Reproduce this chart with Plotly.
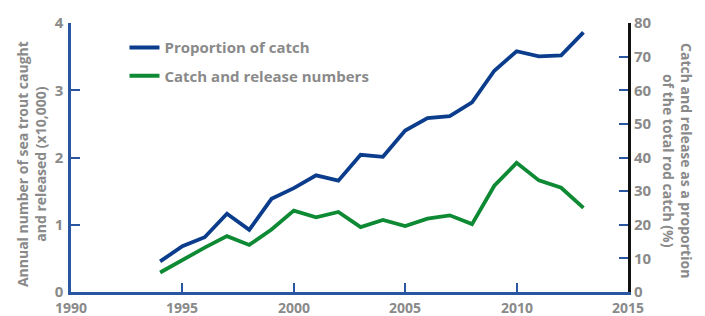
import plotly.graph_objects as go

years = list(range(1994, 2014))
# Proportion of catch (%), right axis
proportion = [9.1, 13.6, 16.3, 23.3, 18.5, 27.7, 30.9, 34.7, 33.1, 40.8,
              40.2, 48.0, 51.7, 52.3, 56.4, 65.8, 71.6, 70.1, 70.4, 77.2]
# Catch and release numbers (x10,000), left axis
numbers = [0.29, 0.48, 0.66, 0.83, 0.70, 0.93, 1.21, 1.11, 1.19, 0.965,
           1.07, 0.98, 1.09, 1.14, 1.01, 1.58, 1.92, 1.66, 1.55, 1.25]

x_ticks = [1990, 1995, 2000, 2005, 2010, 2015]
y_ticks = [0, 1, 2, 3, 4]
y2_ticks = [0, 10, 20, 30, 40, 50, 60, 70, 80]

BLUE = "#0b3d8c"
GREEN = "#0e8a34"
AXBLUE = "#2a55a0"
GRAY = "#8a8a8a"
FONT = "Open Sans"

fig = go.Figure()
fig.add_trace(go.Scatter(x=years, y=proportion, name="Proportion of catch",
                         mode="lines", line=dict(color=BLUE, width=3.8),
                         yaxis="y2", legend="legend", showlegend=True))
fig.add_trace(go.Scatter(x=years, y=numbers, name="Catch and release numbers",
                         mode="lines", line=dict(color=GREEN, width=3.8),
                         yaxis="y", legend="legend2", showlegend=True))

tickfont = dict(family=FONT, size=15, color=GRAY, weight="bold")
xtickfont = dict(family=FONT, size=14, color=GRAY, weight="bold")
legfont = dict(family=FONT, size=15, color=GRAY, weight="bold")

# x tick labels as annotations placed through the x axis scale
xlabels = [dict(text=str(v), x=v, xref="x", yref="paper", y=0, yanchor="top",
                xanchor="center", yshift=-4, showarrow=False, font=xtickfont)
           for v in x_ticks]

fig.update_layout(
    width=705, height=316,
    showlegend=True,
    margin=dict(l=71, r=77, t=23, b=23.5),
    paper_bgcolor="white", plot_bgcolor="white",
    xaxis=dict(range=[1990, 2015], tickvals=x_ticks, showticklabels=False,
               showgrid=False, zeroline=False, showline=True, linecolor=AXBLUE, linewidth=2.5,
               ticks="inside", ticklen=9, tickwidth=2, tickcolor=AXBLUE, automargin=False),
    yaxis=dict(range=[0, 4], tickvals=y_ticks, showgrid=False, zeroline=False,
               showline=True, linecolor=AXBLUE, linewidth=2.5,
               ticks="inside", ticklen=9, tickwidth=2, tickcolor=AXBLUE,
               tickfont=tickfont, ticklabelstandoff=2, automargin=False),
    yaxis2=dict(range=[0, 80], tickvals=y2_ticks, overlaying="y", side="right",
                showgrid=False, zeroline=False, showline=True, linecolor="#111111", linewidth=3,
                ticks="inside", ticklen=9, tickwidth=2, tickcolor=AXBLUE,
                tickfont=tickfont, ticklabelstandoff=0, automargin=False),
    legend=dict(x=0.096, y=0.908, xanchor="left", yanchor="middle", font=legfont,
                bgcolor="rgba(0,0,0,0)", itemwidth=30),
    legend2=dict(x=0.096, y=0.803, xanchor="left", yanchor="middle", font=legfont,
                 bgcolor="rgba(0,0,0,0)", itemwidth=30),
    annotations=xlabels + [
        dict(text="Annual number of sea trout caught<br>and released (x10,000)",
             xref="paper", yref="paper", x=-0.072, y=0.475, xanchor="center", yanchor="middle",
             textangle=-90, showarrow=False,
             font=dict(family=FONT, size=14, color=GRAY, weight="bold")),
        dict(text="Catch and release as a proportion<br>of the total rod catch (%)",
             xref="paper", yref="paper", x=1.09, y=0.49, xanchor="center", yanchor="middle",
             textangle=90, showarrow=False,
             font=dict(family=FONT, size=14, color=GRAY, weight="bold")),
    ],
)

fig.write_html("out.html", config={"displayModeBar": False},
               post_script="document.body.style.margin='0';document.body.style.overflow='hidden';")
